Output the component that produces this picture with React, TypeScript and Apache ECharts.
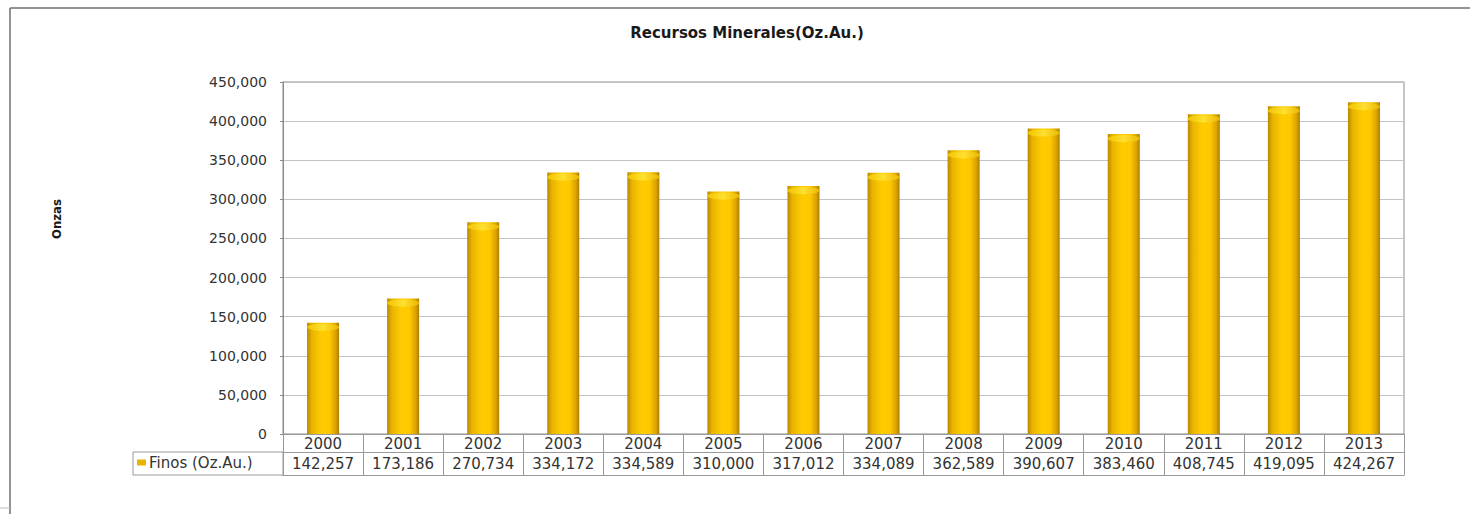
import React, { useEffect, useRef } from "react";
import * as echarts from "echarts";

const titleText = "Recursos Minerales(Oz.Au.)";
const yAxisTitle = "Onzas";
const seriesName = "Finos (Oz.Au.)";
const years = ["2000", "2001", "2002", "2003", "2004", "2005", "2006", "2007", "2008", "2009", "2010", "2011", "2012", "2013"];
const finos = [142257, 173186, 270734, 334172, 334589, 310000, 317012, 334089, 362589, 390607, 383460, 408745, 419095, 424267];
const yMin = 0;
const yMax = 450000;
const yStep = 50000;

const fmt = (v: number) => v.toLocaleString("en-US");
const FONT = "'DejaVu Sans', Verdana, sans-serif";

export default function App() {
  const ref = useRef<HTMLDivElement>(null);
  useEffect(() => {
    if (!ref.current) return;
    const chart = echarts.init(ref.current, null, { renderer: "svg" });
    const barGradient = new echarts.graphic.LinearGradient(0, 0, 1, 0, [
      { offset: 0, color: "#B88A00" },
      { offset: 0.15, color: "#E8B400" },
      { offset: 0.45, color: "#FFCC00" },
      { offset: 0.7, color: "#FFC800" },
      { offset: 0.9, color: "#D9A200" },
      { offset: 1, color: "#A87C00" },
    ]);
    const capGradient = new echarts.graphic.LinearGradient(0, 0, 1, 0, [
      { offset: 0, color: "#F0C400" },
      { offset: 0.5, color: "#FFE030" },
      { offset: 1, color: "#EAB800" },
    ]);
    chart.setOption({
      animation: false,
      backgroundColor: "#ffffff",
      title: {
        text: titleText,
        left: 742,
        top: 20,
        textAlign: "center",
        textStyle: { fontFamily: FONT, fontSize: 15, fontWeight: "bold", color: "#1a1a1a" },
      },
      legend: {
        data: [seriesName],
        left: 137,
        top: 455,
        padding: 0,
        itemWidth: 9,
        itemHeight: 6,
        itemGap: 0,
        icon: "rect",
        itemStyle: { color: "#E8B400" },
        textStyle: { fontFamily: FONT, fontSize: 15, color: "#333333", padding: [0, 0, 0, -2] },
      },
      grid: {
        left: 283,
        right: 66,
        top: 82,
        bottom: 80,
        show: true,
        borderColor: "#8a8a8a",
        borderWidth: 1,
        backgroundColor: "transparent",
      },
      xAxis: [
        {
          type: "category",
          data: years,
          position: "bottom",
          boundaryGap: true,
          axisLine: { show: true, onZero: false, lineStyle: { color: "#9a9a9a", width: 1 } },
          axisTick: { show: true, interval: 0, length: 41, lineStyle: { color: "#9a9a9a", width: 1 } },
          axisLabel: { interval: 0, margin: 2, fontFamily: FONT, fontSize: 15, color: "#333333" },
          splitLine: { show: false },
        },
        {
          type: "category",
          data: finos.map(fmt),
          position: "bottom",
          offset: 18,
          boundaryGap: true,
          axisLine: { show: true, onZero: false, lineStyle: { color: "#9a9a9a", width: 1 } },
          axisTick: { show: false },
          axisLabel: { interval: 0, margin: 4, fontFamily: FONT, fontSize: 15, color: "#333333" },
          splitLine: { show: false },
        },
        {
          type: "category",
          data: years,
          position: "bottom",
          offset: 41,
          axisLine: { show: true, onZero: false, lineStyle: { color: "#9a9a9a", width: 1 } },
          axisTick: { show: false },
          axisLabel: { show: false },
          splitLine: { show: false },
        },
      ],
      yAxis: {
        type: "value",
        min: yMin,
        max: yMax,
        interval: yStep,
        axisLine: { show: true, lineStyle: { color: "#8a8a8a", width: 1 } },
        axisTick: { show: true, length: 3, lineStyle: { color: "#8a8a8a" } },
        axisLabel: { margin: 16, formatter: (v: number) => fmt(v), fontFamily: FONT, fontSize: 14, color: "#333333" },
        splitLine: { show: true, lineStyle: { color: "#c4c4c4", width: 1 } },
      },
      series: [
        {
          name: seriesName,
          type: "bar",
          data: finos,
          barWidth: 32,
          xAxisIndex: 0,
          itemStyle: { color: barGradient },
        },
        {
          name: "cap",
          type: "pictorialBar",
          data: finos,
          xAxisIndex: 0,
          symbol: "circle",
          symbolSize: [32, 7],
          symbolPosition: "end",
          symbolOffset: [0, "15%"],
          itemStyle: { color: capGradient },
          z: 3,
          silent: true,
        },
      ],
      graphic: [
        {
          type: "line",
          shape: { x1: 10, y1: 8, x2: 1470, y2: 8 },
          style: { stroke: "#6f6f6f", lineWidth: 1.5 },
        },
        {
          type: "line",
          shape: { x1: 10, y1: 8, x2: 10, y2: 514 },
          style: { stroke: "#6f6f6f", lineWidth: 1.5 },
        },
        {
          type: "line",
          shape: { x1: 0, y1: 508, x2: 10, y2: 508 },
          style: { stroke: "#bbbbbb", lineWidth: 1 },
        },
        {
          type: "rect",
          shape: { x: 133, y: 452, width: 150, height: 23 },
          style: { fill: "none", stroke: "#9a9a9a", lineWidth: 1 },
        },
        {
          type: "text",
          x: 56,
          y: 219,
          rotation: Math.PI / 2,
          style: {
            text: yAxisTitle,
            fontFamily: "'DejaVu Sans Condensed', 'DejaVu Sans', sans-serif",
            fontSize: 13,
            fontWeight: "bold",
            fill: "#1a1a1a",
            align: "center",
            verticalAlign: "middle",
          },
        },
      ],
    });
    return () => chart.dispose();
  }, []);
  return <div ref={ref} style={{ position: "absolute", left: 0, top: 0, width: 1470, height: 514 }} />;
}
